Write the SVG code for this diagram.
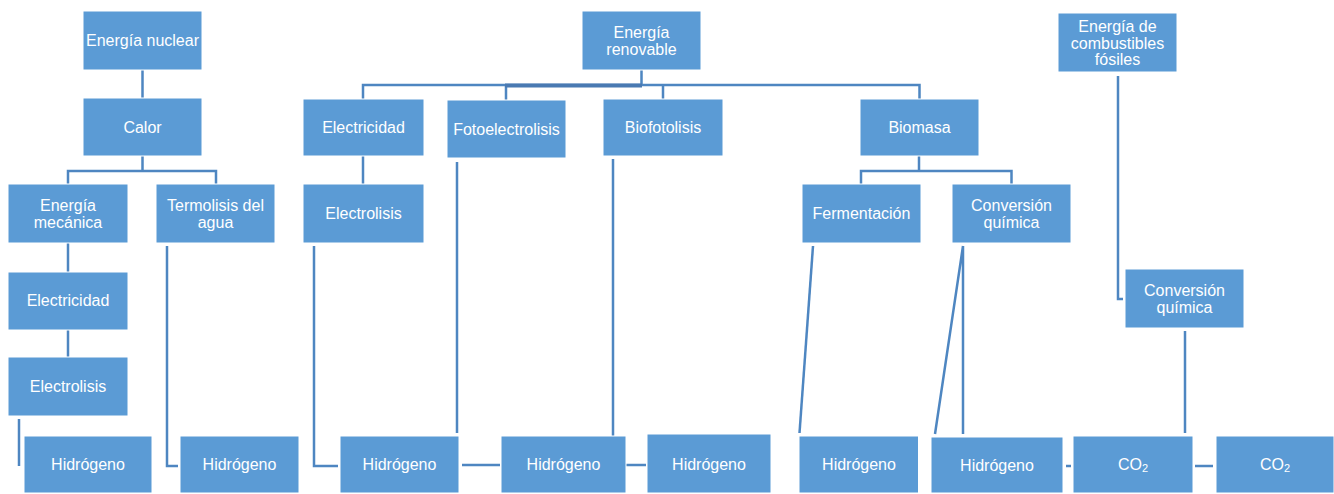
<svg xmlns="http://www.w3.org/2000/svg" width="1334" height="494" viewBox="0 0 1334 494">
<style>
.box{fill:#5B9BD5;stroke:#ffffff;stroke-width:1}
.t{font-family:"Liberation Sans",Arial,sans-serif;font-size:16px;fill:#ffffff;text-anchor:middle;dominant-baseline:central}
.c{fill:none;stroke:#4E86C1;stroke-width:2.5}
.ck{fill:none;stroke:#4A7AB2;stroke-width:4}
</style>
<rect width="1334" height="494" fill="#ffffff"/>
<g id="connectors">
<path class="c" d="M142.5 70V98"/>
<path class="c" d="M142.5 156V171M68 184V171H216V184"/>
<path class="c" d="M68 243V272"/>
<path class="c" d="M68 330V357"/>
<path class="c" d="M19 419V466"/>
<path class="c" d="M167 246V466H178"/>
<path class="c" d="M641.5 70V85M363 99V85H919.5V99M506 100V85M663 99V85"/>
<path class="ck" d="M505 85.5H642"/>
<path class="c" d="M363 156V184"/>
<path class="c" d="M314 246V466H338"/>
<path class="c" d="M457 162V433"/>
<path class="c" d="M613 159V436"/>
<path class="c" d="M462 465H500"/>
<path class="c" d="M626 465H646"/>
<path class="c" d="M919 156V171M861 184V171H1011.5V184"/>
<path class="c" d="M813 246L799.5 433"/>
<path class="c" d="M963 246L935 434M963 246V434"/>
<path class="c" d="M1118 76V299H1123"/>
<path class="c" d="M1185 331V433"/>
<path class="c" d="M1066 466H1071"/>
<path class="c" d="M1195 466H1213"/>
</g>
<g id="n-nuclear"><rect class="box" x="83" y="11" width="119" height="59"/><text class="t" x="142.5" y="40">Energía nuclear</text></g>
<g id="n-calor"><rect class="box" x="83" y="98" width="119" height="58"/><text class="t" x="142.5" y="127">Calor</text></g>
<g id="n-mecanica"><rect class="box" x="8" y="184" width="120" height="59"/><text class="t" x="68" y="205">Energía</text><text class="t" x="68" y="222">mecánica</text></g>
<g id="n-termolisis"><rect class="box" x="156" y="184" width="119" height="59"/><text class="t" x="215.5" y="205">Termolisis del</text><text class="t" x="215.5" y="222">agua</text></g>
<g id="n-electricidad1"><rect class="box" x="8" y="272" width="120" height="58"/><text class="t" x="68" y="300">Electricidad</text></g>
<g id="n-electrolisis1"><rect class="box" x="8" y="357" width="120" height="59"/><text class="t" x="68" y="386">Electrolisis</text></g>
<g id="n-h1"><rect class="box" x="24" y="436" width="128" height="57"/><text class="t" x="88" y="464.5">Hidrógeno</text></g>
<g id="n-h2"><rect class="box" x="180" y="436" width="119" height="57"/><text class="t" x="239.5" y="464.5">Hidrógeno</text></g>
<g id="n-renovable"><rect class="box" x="582" y="11" width="119" height="59"/><text class="t" x="641.5" y="32">Energía</text><text class="t" x="641.5" y="49">renovable</text></g>
<g id="n-electricidad2"><rect class="box" x="303" y="99" width="121" height="57"/><text class="t" x="363.5" y="127">Electricidad</text></g>
<g id="n-fotoelectrolisis"><rect class="box" x="447" y="100" width="119" height="58"/><text class="t" x="506.5" y="129">Fotoelectrolisis</text></g>
<g id="n-biofotolisis"><rect class="box" x="603" y="99" width="120" height="57"/><text class="t" x="663" y="127">Biofotolisis</text></g>
<g id="n-biomasa"><rect class="box" x="860" y="99" width="119" height="57"/><text class="t" x="919.5" y="127">Biomasa</text></g>
<g id="n-electrolisis2"><rect class="box" x="303" y="184" width="121" height="59"/><text class="t" x="363.5" y="213">Electrolisis</text></g>
<g id="n-fermentacion"><rect class="box" x="802" y="184" width="119" height="59"/><text class="t" x="861.5" y="213">Fermentación</text></g>
<g id="n-conversion1"><rect class="box" x="952" y="184" width="119" height="59"/><text class="t" x="1011.5" y="205">Conversión</text><text class="t" x="1011.5" y="222">química</text></g>
<g id="n-fosiles"><rect class="box" x="1058" y="13" width="119" height="59"/><text class="t" x="1117.5" y="26">Energía de</text><text class="t" x="1117.5" y="43">combustibles</text><text class="t" x="1117.5" y="59">fósiles</text></g>
<g id="n-conversion2"><rect class="box" x="1125" y="269" width="119" height="59"/><text class="t" x="1184.5" y="290">Conversión</text><text class="t" x="1184.5" y="307">química</text></g>
<g id="n-h3"><rect class="box" x="340" y="436" width="119" height="57"/><text class="t" x="399.5" y="464.5">Hidrógeno</text></g>
<g id="n-h4"><rect class="box" x="501" y="436" width="125" height="57"/><text class="t" x="563.5" y="464.5">Hidrógeno</text></g>
<g id="n-h5"><rect class="box" x="647" y="434" width="124" height="59"/><text class="t" x="709" y="464">Hidrógeno</text></g>
<g id="n-h6"><rect class="box" x="799" y="436" width="119.5" height="57"/><text class="t" x="859" y="464.5">Hidrógeno</text></g>
<g id="n-h7"><rect class="box" x="931" y="437" width="132" height="56"/><text class="t" x="997" y="465">Hidrógeno</text></g>
<g id="n-co2a"><rect class="box" x="1073" y="436" width="120" height="57"/><text class="t" x="1133" y="464.5">CO<tspan font-size="11" dy="3">2</tspan></text></g>
<g id="n-co2b"><rect class="box" x="1216" y="436" width="118" height="57"/><text class="t" x="1275" y="464.5">CO<tspan font-size="11" dy="3">2</tspan></text></g>
</svg>
